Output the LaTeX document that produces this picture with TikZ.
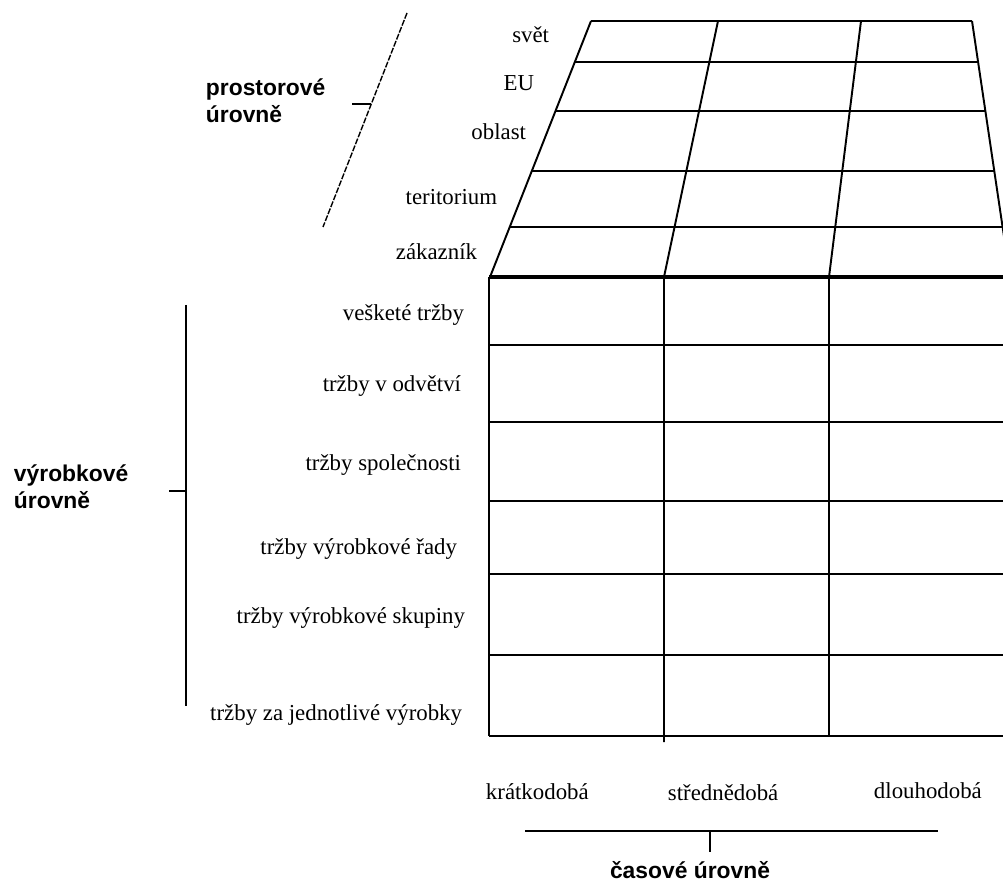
\documentclass[tikz,border=0pt]{standalone}
\usepackage{fontspec}
\setmainfont{Liberation Serif}
\setsansfont{Liberation Sans}
\usepackage{tikz}

\begin{document}
\begin{tikzpicture}[x=0.02cm, y=-0.02cm, line width=1.1pt,
    lbl/.style={inner sep=0pt, font=\fontsize{13}{15.6}\selectfont},
    head/.style={inner sep=0pt, align=left, font=\fontsize{13}{15.6}\selectfont\sffamily\bfseries}]
      \useasboundingbox (0,0) rectangle (1003,884);
      \clip (0,0) rectangle (1003,884);
      \foreach \y in {21,62,111,171,227}
      \draw ({591-0.3945*(\y-21)},\y) -- ({972+0.146*(\y-21)},\y);
      \draw (591,21) -- (490,277);
      \draw (972,21) -- (1010,277);
      \draw (718,21) -- (664,277) -- (664,742);
      \draw (861,21) -- (829,277) -- (829,736);
      \draw[line width=2.3pt] (489,277) -- (1003,277);
      \foreach \y in {345,422,501,574,655,736}
      \draw (489,\y) -- (1003,\y);
      \draw (489,277) -- (489,736);
      \node[lbl, anchor=east] (svet) at (550,35) {svět};
      \node[lbl, anchor=east] (eu) at (535,83) {EU};
      \node[lbl, anchor=east] (oblast) at (527,132) {oblast};
      \node[lbl, anchor=east] (teritorium) at (498,197) {teritorium};
      \node[lbl, anchor=east] (zakaznik) at (478,252) {zákazník};
      \node[lbl, anchor=east] (veskere) at (465,315) {vešketé tržby};
      \node[lbl, anchor=east] (odvetvi) at (462,386) {tržby v odvětví};
      \node[lbl, anchor=east] (spolecnost) at (462,465) {tržby společnosti};
      \node[lbl, anchor=east] (rada) at (458,549) {tržby výrobkové řady};
      \node[lbl, anchor=east] (skupina) at (466,618) {tržby výrobkové skupiny};
      \node[lbl, anchor=east] (vyrobek) at (463,715) {tržby za jednotlivé výrobky};
      \node[lbl, anchor=west] (kratko) at (485,792) {krátkodobá};
      \node[lbl, anchor=west] (stredne) at (667,793) {střednědobá};
      \node[lbl, anchor=west] (dlouho) at (873,791) {dlouhodobá};
      \node[head, anchor=west] (prostor) at (205,101) {prostorové\\úrovně};
      \node[head, anchor=west] (vyrobni) at (13,487) {výrobkové\\úrovně};
      \node[head] (casove) at (690,870) {časové úrovně};
      \draw[line width=0.8pt, dash pattern=on 0.12cm off 0.03cm] (407,13) -- (323,227);
      \draw (352,104) -- (371,104);
      \draw (186,305) -- (186,706);
      \draw (169,491) -- (186,491);
      \draw (525,831) -- (938,831);
      \draw (710,831) -- (710,852);
    \end{tikzpicture}
\end{document}
